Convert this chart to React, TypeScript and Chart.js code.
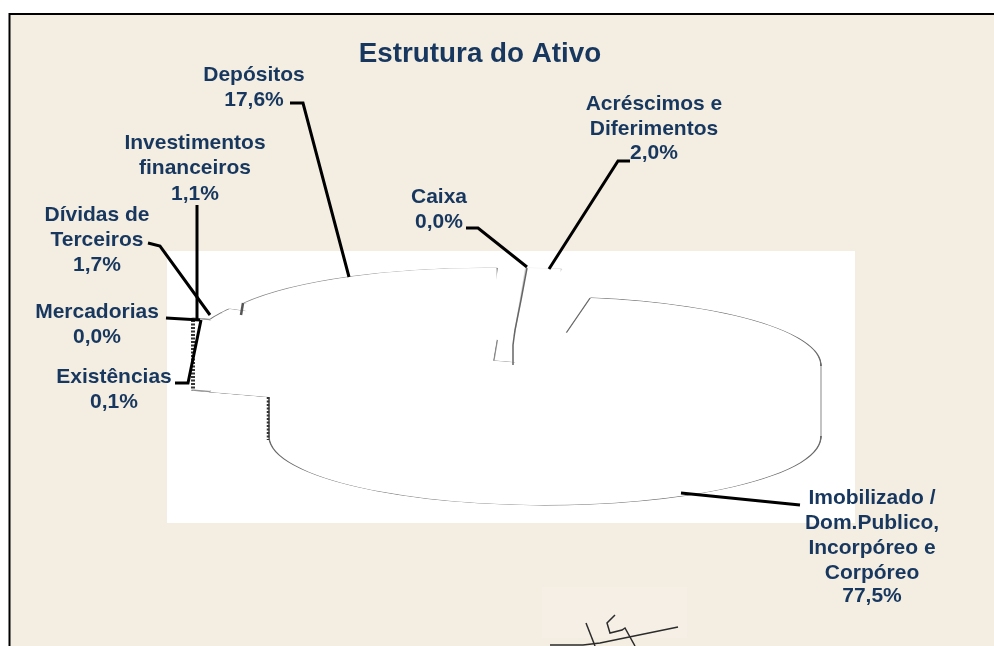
import React, { useEffect, useRef } from "react";
import { Chart, registerables } from "chart.js";

Chart.register(...registerables);

const categories = [
  "Caixa",
  "Acréscimos e Diferimentos",
  "Imobilizado / Dom.Publico, Incorpóreo e Corpóreo",
  "Existências",
  "Mercadorias",
  "Dívidas de Terceiros",
  "Investimentos financeiros",
  "Depósitos",
];
const shares = [0.0, 2.0, 77.5, 0.1, 0.0, 1.7, 1.1, 17.6];

// Where each exploded slice sits on the page (same order as categories).
const sliceCentreX = [515, 515, 545, 453, 453, 470, 470, 485];
const sliceCentreY = [336, 336, 365, 340, 340, 342, 342, 336];
const sliceOutline = ["#cccccc", "#d4d4d4", "#6a6a6a", "#6a6a6a", "#6a6a6a", "#777777", "#777777", "#8a8a8a"];
const BIG_SLICE = 2;

const RADIUS_X = 275;
const RADIUS_Y = 68;
const DEPTH = 72;
const ROTATION = 2.4;
const BEIGE = "#F3EDE2";
const NAVY = "#17375E";
const FONT = '"Liberation Sans", Arial, sans-serif';

type Label = { x: number; ys: number[]; lines: string[] };
const labels: Label[] = [
  { x: 254, ys: [75, 100], lines: ["Depósitos", "17,6%"] },
  { x: 195, ys: [143, 168, 194], lines: ["Investimentos", "financeiros", "1,1%"] },
  { x: 97, ys: [215, 240, 265], lines: ["Dívidas de", "Terceiros", "1,7%"] },
  { x: 97, ys: [312, 337], lines: ["Mercadorias", "0,0%"] },
  { x: 114, ys: [377, 402], lines: ["Existências", "0,1%"] },
  { x: 439, ys: [197, 222], lines: ["Caixa", "0,0%"] },
  { x: 654, ys: [104, 129, 153], lines: ["Acréscimos e", "Diferimentos", "2,0%"] },
  { x: 872, ys: [498, 523, 548, 573, 596], lines: ["Imobilizado /", "Dom.Publico,", "Incorpóreo e", "Corpóreo", "77,5%"] },
];

const leaders: number[][][] = [
  [[290, 103], [303, 103], [349, 277]],
  [[197, 205], [197, 320]],
  [[148, 243], [160, 246], [210, 315]],
  [[166, 318], [200, 320]],
  [[175, 383], [188, 383], [201, 320]],
  [[466, 228], [478, 228], [527, 267]],
  [[630, 161], [618, 161], [549, 269]],
  [[800, 505], [790, 504], [681, 493]],
];

const caixaEdge = [[527, 268], [521, 300], [515, 330], [513, 345], [513, 365]];
const depositosWall = [[243, 303], [241, 315]];
const existenciasWall = [[193, 320], [193, 390]];
const imobilizadoLeftWall = [[268, 397], [268, 440]];
const imobilizadoRightWall = [[821, 366], [821, 436]];
const hiddenEdge = [[567, 333], [544, 367]];

const signature: number[][][] = [
  [[550, 645], [583, 645], [600, 643], [678, 627]],
  [[586, 623], [595, 646]],
  [[615, 615], [607, 623], [610, 633], [622, 630], [625, 628], [635, 646]],
];

function polyline(ctx: CanvasRenderingContext2D, pts: number[][]) {
  ctx.beginPath();
  pts.forEach(([x, y], i) => (i ? ctx.lineTo(x, y) : ctx.moveTo(x, y)));
  ctx.stroke();
}

const pagePlugin = {
  id: "page",
  beforeDraw(chart: any) {
    const ctx: CanvasRenderingContext2D = chart.ctx;
    ctx.save();
    ctx.fillStyle = "#FFFFFF";
    ctx.fillRect(0, 0, 994, 646);
    ctx.fillStyle = BEIGE;
    ctx.fillRect(9, 14, 985, 632);
    ctx.strokeStyle = "#000000";
    ctx.lineWidth = 2;
    polyline(ctx, [[9.5, 646], [9.5, 14], [994, 14]]);
    ctx.fillStyle = "#FFFFFF";
    ctx.fillRect(167, 251, 688, 272);
    ctx.fillStyle = "#F5EFE6";
    ctx.fillRect(542, 587, 145, 51);
    ctx.restore();
  },
  beforeDatasetsDraw(chart: any) {
    const ctx: CanvasRenderingContext2D = chart.ctx;
    const arcs = chart.getDatasetMeta(0).data;
    const k = RADIUS_Y / RADIUS_X;
    const place = (arc: any, i: number, d: number) => {
      ctx.save();
      ctx.translate(sliceCentreX[i], sliceCentreY[i] + d);
      ctx.scale(1, k);
      ctx.translate(-arc.x, -arc.y);
      arc.draw(ctx);
      ctx.restore();
    };
    // Outlines: the big slice shows its full wall, the others their two faces.
    arcs.forEach((arc: any, i: number) => {
      if (i === BIG_SLICE) {
        for (let d = DEPTH; d >= 0; d--) place(arc, i, d);
      } else {
        place(arc, i, DEPTH);
        place(arc, i, 0);
      }
    });
    // White bodies hide everything but the silhouettes.
    const saved = arcs.map((a: any) => a.options);
    arcs.forEach((a: any) => {
      a.options = { ...a.options, borderWidth: 0, backgroundColor: "#FFFFFF" };
    });
    arcs.forEach((arc: any, i: number) => {
      for (let d = DEPTH; d >= 0; d--) place(arc, i, d);
    });
    arcs.forEach((a: any, i: number) => {
      a.options = saved[i];
    });
    return false;
  },
  afterDraw(chart: any) {
    const ctx: CanvasRenderingContext2D = chart.ctx;
    ctx.save();
    ctx.lineJoin = "miter";
    ctx.strokeStyle = "#FFFFFF";
    ctx.lineWidth = 4;
    polyline(ctx, hiddenEdge);
    ctx.strokeStyle = "rgba(255,255,255,0.6)";
    ctx.lineWidth = 3;
    polyline(ctx, imobilizadoRightWall);
    ctx.strokeStyle = "#666666";
    ctx.lineWidth = 1.5;
    polyline(ctx, caixaEdge);
    ctx.strokeStyle = "#555555";
    ctx.lineWidth = 2.5;
    polyline(ctx, depositosWall);
    ctx.strokeStyle = "#333333";
    ctx.lineWidth = 4;
    ctx.setLineDash([2, 1.5]);
    polyline(ctx, existenciasWall);
    ctx.lineWidth = 2.5;
    polyline(ctx, imobilizadoLeftWall);
    ctx.setLineDash([]);
    ctx.strokeStyle = "#000000";
    ctx.lineWidth = 3;
    leaders.forEach((l) => polyline(ctx, l));
    ctx.strokeStyle = "#2b2b2b";
    ctx.lineWidth = 1.5;
    signature.forEach((s) => polyline(ctx, s));
    ctx.fillStyle = NAVY;
    ctx.textAlign = "center";
    ctx.textBaseline = "middle";
    ctx.font = `bold 27.8px ${FONT}`;
    ctx.fillText("Estrutura do Ativo", 480, 54);
    ctx.font = `bold 21px ${FONT}`;
    labels.forEach((l) => l.lines.forEach((t, i) => ctx.fillText(t, l.x, l.ys[i])));
    ctx.restore();
  },
};

export default function App() {
  const ref = useRef<HTMLCanvasElement>(null);
  useEffect(() => {
    const chart = new Chart(ref.current as HTMLCanvasElement, {
      type: "pie",
      data: {
        labels: categories,
        datasets: [
          {
            data: shares,
            backgroundColor: "#FFFFFF",
            borderColor: sliceOutline,
            borderWidth: 3,
          },
        ],
      },
      options: {
        animation: false,
        responsive: false,
        radius: RADIUS_X,
        rotation: ROTATION,
        plugins: { legend: { display: false }, tooltip: { enabled: false }, title: { display: false } },
      },
      plugins: [pagePlugin],
    } as any);
    return () => chart.destroy();
  }, []);
  return (
    <div style={{ position: "fixed", left: 0, top: 0, width: 994, height: 646 }}>
      <canvas ref={ref} width={994} height={646} style={{ display: "block" }} />
    </div>
  );
}
